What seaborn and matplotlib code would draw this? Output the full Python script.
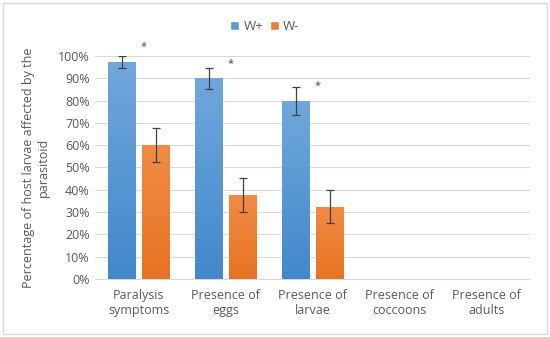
import numpy as np
import pandas as pd
import matplotlib
matplotlib.use("Agg")
import matplotlib.pyplot as plt
import seaborn as sns
from matplotlib.patches import Rectangle
from matplotlib.colors import LinearSegmentedColormap

categories = ["Paralysis\nsymptoms", "Presence of\neggs", "Presence of\nlarvae",
              "Presence of\ncoccoons", "Presence of\nadults"]
w_plus = [97.3, 90.0, 80.0, 0.0, 0.0]
w_minus = [60.0, 37.5, 32.5, 0.0, 0.0]
err_plus = [2.5, 4.7, 6.3, 0.0, 0.0]
err_minus = [7.7, 7.6, 7.4, 0.0, 0.0]
star_y = [105.0, 97.5, 87.5]
groups = ["W+", "W-"]

df = pd.DataFrame({
    "Category": categories * 2,
    "Group": ["W+"] * 5 + ["W-"] * 5,
    "Value": w_plus + w_minus,
})

sns.set_style("white")
plt.rcParams["font.family"] = ["Open Sans", "DejaVu Sans"]
text_col = "#595959"

fig = plt.figure(figsize=(5.5, 3.37), dpi=100)
ax = fig.add_axes([0.173, 0.172, 0.791, 0.662])

palette = {"W+": "#5B9BD5", "W-": "#ED7D31"}
sns.barplot(data=df, x="Category", y="Value", hue="Group", hue_order=groups,
            palette=palette, width=0.78, gap=0.2, errorbar=None,
            saturation=1, ax=ax, zorder=3)

# excel-like vertical gradient on the bars
cmaps = [LinearSegmentedColormap.from_list("b", ["#4288CB", "#70A7DC"]),
         LinearSegmentedColormap.from_list("o", ["#E67322", "#F18B45"])]
n = len(categories)
grad = np.linspace(0, 1, 100).reshape(-1, 1)
for j, p in enumerate(ax.patches[:2 * n]):
    h = p.get_height()
    if h <= 0:
        continue
    x0 = p.get_x()
    im = ax.imshow(grad, cmap=cmaps[j // n], origin="lower", aspect="auto",
                   extent=[x0, x0 + p.get_width(), 0, h], zorder=3.5)
    im.set_clip_path(p)

for p, e in zip(ax.patches[:2 * n], err_plus + err_minus):
    x = p.get_x() + p.get_width() / 2
    h = p.get_height()
    if h > 0:
        ax.errorbar(x, h, yerr=e, color="#404040", capsize=3, elinewidth=0.9,
                    capthick=0.9, zorder=4)
for i, y in enumerate(star_y):
    p = ax.patches[i]
    ax.text(p.get_x() + p.get_width() + 0.09, y - 0.8, "*", ha="center",
            va="center", fontsize=8, color="#404040", clip_on=False)

ax.set_xlim(-0.5, n - 0.5)
ax.set_ylim(0, 100)
ax.set_yticks(np.arange(0, 101, 10))
ax.set_yticklabels([f"{v}%" for v in range(0, 101, 10)])
ax.yaxis.grid(True, color="#D9D9D9", linewidth=0.8, zorder=0)
ax.set_axisbelow(True)
for s in ["top", "right", "left"]:
    ax.spines[s].set_visible(False)
ax.spines["bottom"].set_color("#D9D9D9")
ax.tick_params(axis="both", length=0, labelsize=9, colors=text_col, pad=4)
ax.tick_params(axis="x", pad=7)
ax.set_xlabel("")
ax.set_ylabel("Percentage of host larvae affected by the\nparasitoid",
              fontsize=9, color=text_col, labelpad=6)

ax.legend(loc="center", bbox_to_anchor=(0.39, 1.13), ncol=2, frameon=False,
          fontsize=9.5, handlelength=0.7, handleheight=0.7, handletextpad=0.3,
          columnspacing=0.5, labelcolor=text_col)

fig.patches.append(Rectangle((0.006, 0.01), 0.988, 0.98, transform=fig.transFigure,
                             fill=False, edgecolor="#D9D9D9", linewidth=1))

fig.savefig("out.png", dpi=100)
